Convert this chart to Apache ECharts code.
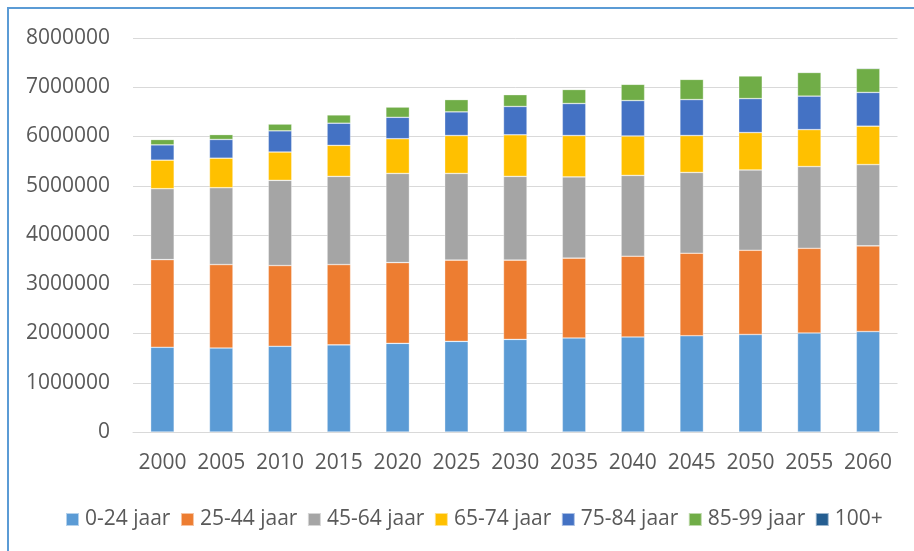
<!DOCTYPE html>
<html>
<head>
<meta charset="utf-8">
<title>Bevolking naar leeftijd</title>
<script src="https://cdn.jsdelivr.net/npm/echarts@6/dist/echarts.min.js"></script>
<style>
  html, body { margin: 0; padding: 0; background: #fff; }
  #chart { width: 914px; height: 551px; }
  #frame {
    position: absolute; left: 7px; top: 7px; width: 940px; height: 580px;
    border: 2px solid #5b9bd5; pointer-events: none;
  }
</style>
</head>
<body>
<div id="chart"></div>
<div id="frame"></div>
<script>
// years on the x axis
const years = ['2000', '2005', '2010', '2015', '2020', '2025', '2030', '2035', '2040', '2045', '2050', '2055', '2060']

// population per age group
const age0to24 = [1720000, 1705000, 1740000, 1770000, 1800000, 1840000, 1880000, 1910000, 1930000, 1955000, 1980000, 2010000, 2040000]
const age25to44 = [1780000, 1695000, 1640000, 1630000, 1640000, 1650000, 1610000, 1620000, 1640000, 1675000, 1710000, 1720000, 1740000]
const age45to64 = [1440000, 1560000, 1730000, 1790000, 1810000, 1760000, 1700000, 1650000, 1640000, 1640000, 1630000, 1660000, 1650000]
const age65to74 = [580000, 600000, 575000, 630000, 705000, 770000, 845000, 840000, 800000, 750000, 760000, 750000, 780000]
const age75to84 = [310000, 380000, 430000, 450000, 435000, 480000, 575000, 650000, 720000, 730000, 690000, 680000, 685000]
const age85to99 = [110000, 100000, 140000, 170000, 210000, 250000, 240000, 285000, 330000, 410000, 460000, 480000, 485000]
const age100plus = [1000, 1300, 1700, 2000, 2500, 3000, 4000, 6000, 8000, 9000, 11000, 13000, 15000]

const groupNames = ['0-24 jaar', '25-44 jaar', '45-64 jaar', '65-74 jaar', '75-84 jaar', '85-99 jaar', '100+']
const groupData = [age0to24, age25to44, age45to64, age65to74, age75to84, age85to99, age100plus]
const colors = ['#5b9bd5', '#ed7d31', '#a5a5a5', '#ffc000', '#4472c4', '#70ad47', '#255e91']

const yTicks = [0, 1000000, 2000000, 3000000, 4000000, 5000000, 6000000, 7000000, 8000000]

const font = '"Open Sans", "DejaVu Sans", sans-serif'

const mychart = echarts.init(document.getElementById('chart'), null, { renderer: 'canvas' })

mychart.setOption({
  animation: false,
  color: colors,
  grid: {
    left: 133,
    right: 16.5,
    top: 38,
    bottom: 119
  },
  legend: {
    data: groupNames,
    left: 60,
    top: 504,
    itemWidth: 13,
    itemHeight: 13,
    itemGap: 9.5,
    icon: 'rect',
    textStyle: {
      fontFamily: font,
      fontSize: 21,
      color: '#595959',
      padding: [0, 0, 0, 1]
    }
  },
  xAxis: {
    type: 'category',
    data: years,
    axisTick: { show: false },
    axisLine: { lineStyle: { color: '#d9d9d9', width: 1 } },
    axisLabel: {
      interval: 0,
      fontFamily: font,
      fontSize: 21,
      color: '#595959',
      margin: 21
    }
  },
  yAxis: {
    type: 'value',
    min: yTicks[0],
    max: yTicks[yTicks.length - 1],
    interval: 1000000,
    axisLine: { show: false },
    axisTick: { show: false },
    splitLine: { lineStyle: { color: '#d9d9d9', width: 1 } },
    axisLabel: {
      fontFamily: font,
      fontSize: 21,
      color: '#595959',
      margin: 23,
      formatter: (v) => String(v)
    }
  },
  series: groupNames.map((name, i) => ({
    name: name,
    type: 'bar',
    stack: 'total',
    data: groupData[i],
    barCategoryGap: '60%',
    itemStyle: {
      color: colors[i],
      borderColor: 'rgba(255,255,255,0.55)',
      borderWidth: 0.6
    }
  }))
})
</script>
</body>
</html>
